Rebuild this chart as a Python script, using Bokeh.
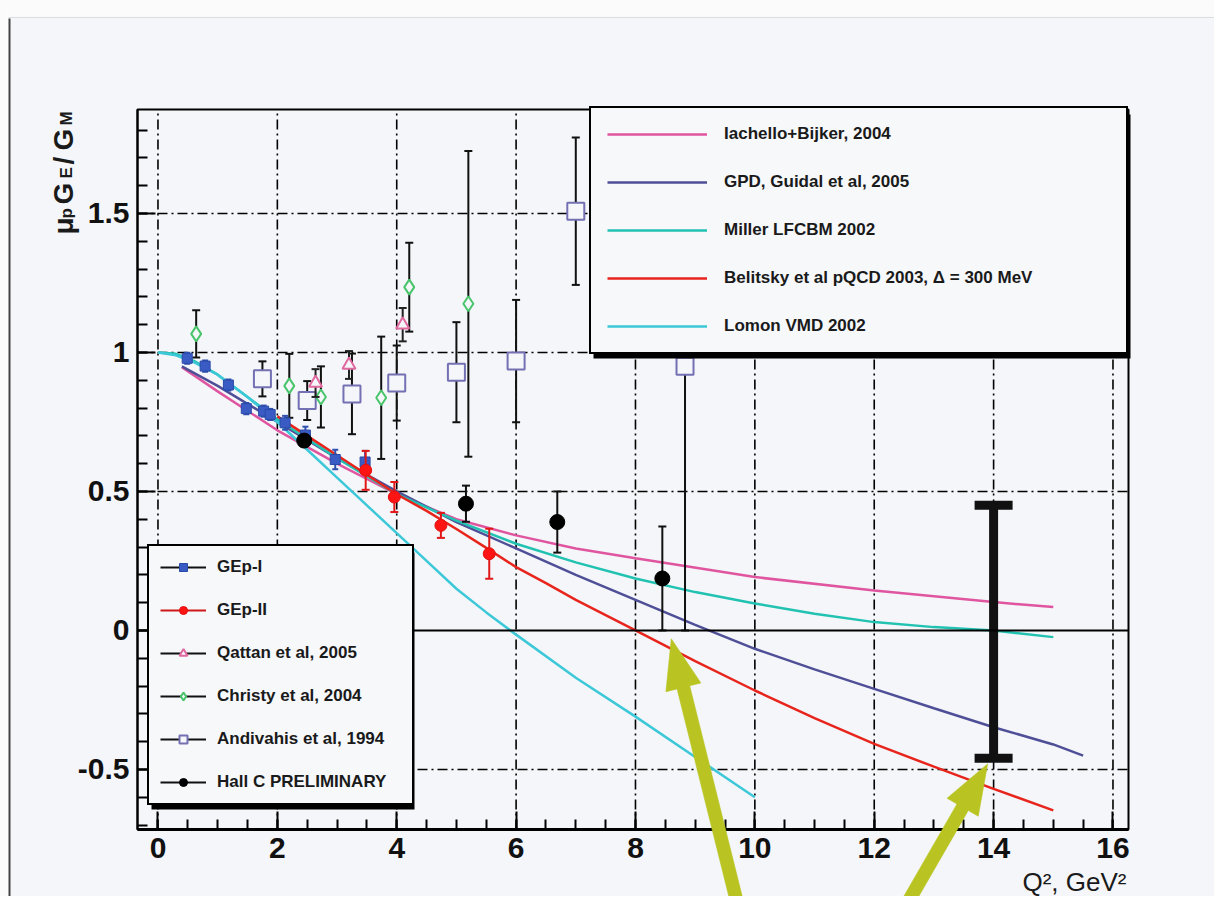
import numpy as np
from bokeh.plotting import figure
from bokeh.models import (ColumnDataSource, Range1d, SingleIntervalTicker, LinearAxis,
                          Legend, LegendItem, Label, PolyAnnotation)
from bokeh.embed import file_html
from bokeh.resources import INLINE

# ---------------- theory curves ----------------
iach_x = [0.4, 1, 2, 3, 4, 5, 6, 7, 8, 10, 12, 14, 15]
iach_y = [0.947, 0.86, 0.72, 0.60, 0.49, 0.40, 0.342, 0.295, 0.26, 0.192, 0.144, 0.102, 0.084]

gpd_x = [0.4, 1, 2, 3, 4, 5, 6, 7, 8, 9, 10, 11, 12, 13, 14, 15, 15.5]
gpd_y = [0.95, 0.88, 0.75, 0.62, 0.50, 0.39, 0.295, 0.20, 0.11, 0.02, -0.066, -0.14, -0.21, -0.28, -0.348, -0.41, -0.45]

miller_x = [0, 0.3, 0.6, 1, 1.5, 2, 3, 4, 5, 6, 7, 8, 9, 10, 11, 12, 13, 14, 15]
miller_y = [1.0, 0.995, 0.97, 0.92, 0.84, 0.76, 0.62, 0.49, 0.395, 0.312, 0.245, 0.187, 0.138, 0.097, 0.06, 0.03, 0.012, 0.0, -0.024]

belitsky_x = [2, 2.5, 3, 3.5, 4, 4.5, 5, 5.5, 6, 6.5, 7, 7.5, 8, 9, 10, 11, 12, 13, 14, 15]
belitsky_y = [0.77, 0.70, 0.63, 0.56, 0.49, 0.43, 0.365, 0.297, 0.228, 0.17, 0.11, 0.055, 0.0, -0.11, -0.216, -0.315, -0.408, -0.49, -0.57, -0.647]

lomon_x = [0, 0.3, 0.6, 1, 1.5, 2, 2.5, 3, 3.5, 4, 4.5, 5, 5.5, 6, 7, 8, 9, 10]
lomon_y = [1.0, 0.99, 0.965, 0.92, 0.84, 0.75, 0.65, 0.55, 0.45, 0.35, 0.25, 0.15, 0.065, -0.015, -0.17, -0.31, -0.455, -0.6]

# ---------------- data sets ----------------
gep1_x = [0.49, 0.79, 1.18, 1.48, 1.77, 1.88, 2.13, 2.47, 2.97, 3.47]
gep1_y = [0.979, 0.951, 0.883, 0.798, 0.789, 0.777, 0.747, 0.703, 0.615, 0.606]
gep1_e = [0.02, 0.02, 0.02, 0.02, 0.02, 0.02, 0.025, 0.03, 0.035, 0.04]

gep2_x = [3.48, 3.96, 4.74, 5.55]
gep2_y = [0.576, 0.48, 0.378, 0.276]
gep2_e = [0.07, 0.054, 0.045, 0.09]

qattan_x = [2.64, 3.20, 4.10]
qattan_y = [0.89, 0.955, 1.10]
qattan_e = [0.05, 0.05, 0.06]

christy_x = [0.64, 2.2, 2.73, 3.74, 4.21, 5.2]
christy_y = [1.067, 0.88, 0.84, 0.837, 1.235, 1.175]
christy_e = [0.085, 0.115, 0.11, 0.22, 0.16, 0.55]

andiv_x = [1.75, 2.5, 3.25, 4.0, 5.0, 6.0, 7.0, 8.83]
andiv_y = [0.905, 0.827, 0.851, 0.89, 0.929, 0.969, 1.508, 0.95]
andiv_e = [0.063, 0.07, 0.145, 0.135, 0.18, 0.22, 0.265, 0.95]

hallc_x = [2.45, 5.16, 6.69, 8.45]
hallc_y = [0.683, 0.456, 0.39, 0.187]
hallc_e = [0.02, 0.065, 0.11, 0.187]

proj_x = [14.0]
proj_y = [-0.005]
proj_e = [0.455]

# arrows (tail -> head)
arrow_tail_x = [9.75, 12.45]
arrow_tail_y = [-1.02, -1.02]
arrow_head_x = [8.6, 13.9]
arrow_head_y = [-0.03, -0.48]

# ticks / grid
y_tick_vals = [-0.5, 0, 0.5, 1, 1.5]
y_tick_labels = ["-0.5", "0", "0.5", "1", "1.5"]
x_grid_vals = [0, 2, 4, 6, 8, 10, 12, 14, 16]
y_grid_vals = [-0.5, 0.5, 1, 1.5]

# axis box (data limits of the drawing frame)
X0, X1 = -0.343, 16.26
Y0, Y1 = -0.716, 1.874

# ---------------- styling / geometry ----------------
FONT = "Liberation Sans"
BG = "#f4f6f9"
C_IACH = "#e0559f"
C_GPD = "#4f4f98"
C_MILLER = "#22c2b2"
C_BEL = "#e8251c"
C_LOMON = "#3cc8d8"
C_ARROW = "#b9c422"

CW, CH = 1214, 896                    # canvas size
FL, FR, FT, FB = 137, 1128, 109, 829  # axis box in canvas pixels
kx = (FR - FL) / (X1 - X0)
ky = (FB - FT) / (Y1 - Y0)
XS, XE = X0 - FL / kx, X1 + (CW - FR) / kx
YS, YE = Y0 - (CH - FB) / ky, Y1 + FT / ky


def cx(px):  # canvas px -> data x
    return XS + px / kx


def cy(py):  # canvas px (from top) -> data y
    return YE - py / ky


p = figure(width=CW, height=CH, x_range=Range1d(XS, XE), y_range=Range1d(YS, YE),
           output_backend="svg", toolbar_location=None,
           x_axis_location=None, y_axis_location=None,
           min_border_left=0, min_border_right=0, min_border_top=0, min_border_bottom=0)
p.background_fill_color = BG
p.border_fill_color = BG
p.outline_line_color = None
p.grid.visible = False

# axes drawn at the box edges
xax = LinearAxis(fixed_location=Y0, bounds=(X0, X1),
                 ticker=SingleIntervalTicker(interval=2, num_minor_ticks=4))
yax = LinearAxis(fixed_location=X0, bounds=(Y0, Y1),
                 ticker=SingleIntervalTicker(interval=0.5, num_minor_ticks=5))
yax.major_label_overrides = {v: s for v, s in zip(y_tick_vals, y_tick_labels)}
for ax in (xax, yax):
    ax.major_tick_in = 18
    ax.major_tick_out = 0
    ax.minor_tick_in = 10
    ax.minor_tick_out = 0
    ax.major_tick_line_width = 2
    ax.minor_tick_line_width = 2
    ax.major_tick_line_color = "black"
    ax.minor_tick_line_color = "black"
    ax.axis_line_color = "black"
    ax.major_label_text_font = FONT
    ax.major_label_text_font_style = "bold"
    ax.major_label_text_font_size = "30px"
    ax.major_label_text_color = "#111111"
    ax.major_label_standoff = 8
xax.axis_line_width = 3
yax.axis_line_width = 2
p.add_layout(xax, "below")
p.add_layout(yax, "left")

# grid (dash-dot), restricted to the axis box
p.segment(x0=x_grid_vals, y0=[Y0] * len(x_grid_vals), x1=x_grid_vals, y1=[Y1] * len(x_grid_vals),
          line_color="black", line_width=1.6, line_dash="10 4 2 4")
p.segment(x0=[X0] * len(y_grid_vals), y0=y_grid_vals, x1=[X1] * len(y_grid_vals), y1=y_grid_vals,
          line_color="black", line_width=1.6, line_dash="10 4 2 4")

# ---------------- theory curves ----------------
r_iach = p.line(iach_x, iach_y, line_color=C_IACH, line_width=2.5)
r_gpd = p.line(gpd_x, gpd_y, line_color=C_GPD, line_width=2.5)
r_miller = p.line(miller_x, miller_y, line_color=C_MILLER, line_width=2.5)
r_bel = p.line(belitsky_x, belitsky_y, line_color=C_BEL, line_width=2.5)
r_lomon = p.line(lomon_x, lomon_y, line_color=C_LOMON, line_width=2.5)


def with_errors(xs, ys, es, bar_color, bar_width=2, cap=8):
    ups = [y + e for y, e in zip(ys, es)]
    src = ColumnDataSource(dict(x=xs, y=ys,
                                lo=[y - e for y, e in zip(ys, es)],
                                hi=[min(u, Y1) for u in ups],
                                hicap=[u if u <= Y1 else np.nan for u in ups]))
    p.segment(x0="x", y0="lo", x1="x", y1="hi", source=src,
              line_color=bar_color, line_width=bar_width)
    if cap:
        p.scatter(x="x", y="lo", source=src, marker="dash", size=cap,
                  line_color=bar_color, line_width=bar_width)
        p.scatter(x="x", y="hicap", source=src, marker="dash", size=cap,
                  line_color=bar_color, line_width=bar_width)
    return src


# ---------------- data points ----------------
s_andiv = with_errors(andiv_x, andiv_y, andiv_e, "#111111")
r_andiv = p.scatter(x="x", y="y", source=s_andiv, marker="square", size=17,
                    fill_color=BG, line_color="#7470b4", line_width=2)

s_chr = with_errors(christy_x, christy_y, christy_e, "#111111")
r_chr = p.scatter(x="x", y="y", source=s_chr, marker="diamond", size=15,
                  fill_color=BG, line_color="#48c46a", line_width=2)

s_qat = with_errors(qattan_x, qattan_y, qattan_e, "#222222")
r_qat = p.scatter(x="x", y="y", source=s_qat, marker="triangle", size=13,
                  fill_color=BG, line_color="#e06aa0", line_width=2)

s_g1 = with_errors(gep1_x, gep1_y, gep1_e, "#3050b0", cap=6)
r_g1 = p.scatter(x="x", y="y", source=s_g1, marker="square", size=10,
                 fill_color="#3a5bc4", line_color="#2a4aa8")

s_g2 = with_errors(gep2_x, gep2_y, gep2_e, "#e01818", cap=8)
r_g2 = p.scatter(x="x", y="y", source=s_g2, marker="circle", size=12,
                 fill_color="#ff1414", line_color="#e01010")

s_hc = with_errors(hallc_x, hallc_y, hallc_e, "#111111")
r_hc = p.scatter(x="x", y="y", source=s_hc, marker="circle", size=15,
                 fill_color="black", line_color="black")

# projected error bar
with_errors(proj_x, proj_y, proj_e, "#111111", bar_width=9, cap=38)

# axis box outline
p.quad(left=[X0], right=[X1], bottom=[Y0], top=[Y1], fill_color=None,
       line_color="black", line_width=2)

# legend drop shadows (ROOT style), drawn before the legends
for (l, t, r, b) in [(593, 114, 1130, 358), (151, 552, 414, 809)]:
    p.add_layout(PolyAnnotation(xs=[cx(l), cx(r), cx(r), cx(l)], ys=[cy(t), cy(t), cy(b), cy(b)],
                                fill_color="black", fill_alpha=1.0, line_alpha=0))

# ---------------- legends ----------------
legend1 = Legend(items=[
    LegendItem(label="Iachello+Bijker, 2004", renderers=[r_iach]),
    LegendItem(label="GPD, Guidal et al, 2005", renderers=[r_gpd]),
    LegendItem(label="Miller LFCBM 2002", renderers=[r_miller]),
    LegendItem(label="Belitsky et al pQCD 2003, \u0394 = 300 MeV", renderers=[r_bel]),
    LegendItem(label="Lomon VMD 2002", renderers=[r_lomon]),
], location=(589, CH - 354))
legend1.padding = 16
legend1.spacing = 28
legend1.glyph_width = 100
legend1.glyph_height = 20
legend1.label_height = 20
legend1.label_standoff = 17
legend1.label_width = 386

d_black = p.line(x=[np.nan, np.nan], y=[np.nan, np.nan], line_color="#111111", line_width=2)
d_red = p.line(x=[np.nan, np.nan], y=[np.nan, np.nan], line_color="#d01818", line_width=2)
legend2 = Legend(items=[
    LegendItem(label="GEp-I", renderers=[d_black, r_g1]),
    LegendItem(label="GEp-II", renderers=[d_red, r_g2]),
    LegendItem(label="Qattan et al, 2005", renderers=[d_black, r_qat]),
    LegendItem(label="Christy et al, 2004", renderers=[d_black, r_chr]),
    LegendItem(label="Andivahis et al, 1994", renderers=[d_black, r_andiv]),
    LegendItem(label="Hall C PRELIMINARY", renderers=[d_black, r_hc]),
], location=(147, CH - 805))
legend2.padding = 11
legend2.spacing = 23
legend2.glyph_width = 46
legend2.glyph_height = 20
legend2.label_height = 20
legend2.label_standoff = 11
legend2.label_width = 184

for lg in (legend1, legend2):
    lg.margin = 0
    lg.background_fill_color = "#f6f8fa"
    lg.background_fill_alpha = 1.0
    lg.border_line_color = "black"
    lg.border_line_alpha = 1.0
    lg.border_line_width = 2
    lg.label_text_font = FONT
    lg.label_text_font_style = "bold"
    lg.label_text_font_size = "17px"
    lg.label_text_color = "#1a1a1a"
    p.add_layout(lg, "center")

# zero line, drawn over the legend as in the original
p.add_layout(PolyAnnotation(xs=[X0, X1], ys=[0, 0], fill_alpha=0, line_color="black",
                            line_alpha=1.0, line_width=2, level="overlay"))


# ---------------- arrows ----------------
def arrow_poly(xa, ya, xb, yb, shaft=13.0, head_w=36.0, head_len=50.0):
    dx = (xb - xa) * kx
    dy = (yb - ya) * ky
    L = float(np.hypot(dx, dy))
    ux, uy = dx / L, dy / L
    nx, ny = -uy, ux
    along = [0, L - head_len, L - head_len, L, L - head_len, L - head_len, 0]
    across = [shaft / 2, shaft / 2, head_w / 2, 0, -head_w / 2, -shaft / 2, -shaft / 2]
    xs = [xa + (a * ux + c * nx) / kx for a, c in zip(along, across)]
    ys = [ya + (a * uy + c * ny) / ky for a, c in zip(along, across)]
    return xs, ys


for xa, ya, xb, yb in zip(arrow_tail_x, arrow_tail_y, arrow_head_x, arrow_head_y):
    axs, ays = arrow_poly(xa, ya, xb, yb)
    p.add_layout(PolyAnnotation(xs=axs, ys=ays, fill_color=C_ARROW, fill_alpha=1.0,
                                line_color=C_ARROW, line_alpha=0.6, line_width=1,
                                level="overlay"))

# slide border: light strips at top/left and a dark line on the left
p.add_layout(PolyAnnotation(xs=[cx(0), cx(CW), cx(CW), cx(0)], ys=[cy(0), cy(0), cy(16), cy(16)],
                            fill_color="#fbfbfb", fill_alpha=1.0, line_alpha=0, level="underlay"))
p.add_layout(PolyAnnotation(xs=[cx(0), cx(8), cx(8), cx(0)], ys=[cy(0), cy(0), cy(CH), cy(CH)],
                            fill_color="#fbfbfb", fill_alpha=1.0, line_alpha=0, level="underlay"))
p.add_layout(PolyAnnotation(xs=[cx(8), cx(CW)], ys=[cy(17), cy(17)], fill_alpha=0,
                            line_color="#dddddd", line_alpha=1.0, line_width=1, level="underlay"))
p.add_layout(PolyAnnotation(xs=[cx(9), cx(9)], ys=[cy(18), cy(CH)], fill_alpha=0,
                            line_color="#444444", line_alpha=1.0, line_width=2))

# ---------------- axis titles ----------------
p.add_layout(Label(x=cx(1126), y=cy(881), text="Q\u00b2, GeV\u00b2", text_font=FONT,
                   text_font_size="26px", text_color="#1a1a1a",
                   text_align="right", text_baseline="alphabetic"))

# y title: mu_p G_E/G_M (rotated); pieces: text, font px, start (canvas y), baseline (canvas x)
ypieces = [("\u03bc", 28, 234, 63), ("p", 17, 218, 66), ("G", 28, 204, 63),
           ("E", 17, 178, 66), ("/", 28, 164, 63), ("G", 28, 150, 63), ("M", 17, 125, 66)]
for txt, size, start, base in ypieces:
    p.add_layout(Label(x=cx(base), y=cy(start), text=txt, angle=np.pi / 2, text_font=FONT,
                       text_font_style="bold", text_font_size=f"{size}px",
                       text_color="#1a1a1a", text_align="left",
                       text_baseline="alphabetic"))

open("out.html", "w").write(file_html(p, INLINE))
